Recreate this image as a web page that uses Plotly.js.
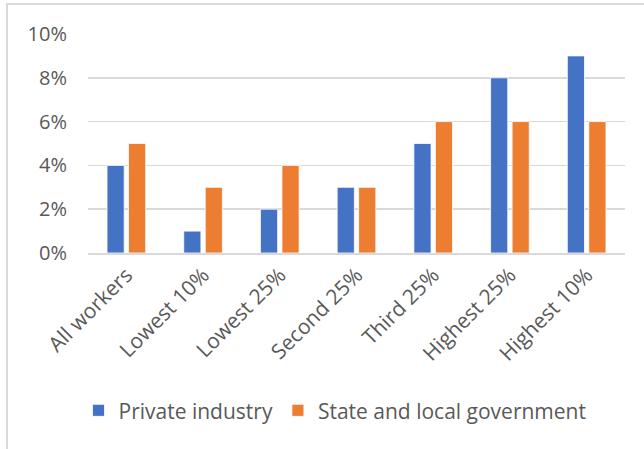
<!DOCTYPE html>
<html>
<head>
<meta charset="utf-8">
<script src="https://cdn.plot.ly/plotly-3.0.1.min.js"></script>
<style>
  html, body { margin: 0; padding: 0; background: #fff; overflow: hidden; }
  #wrap { position: relative; width: 644px; height: 449px; overflow: hidden; }
  #chart { position: absolute; left: 0; top: 0; width: 644px; height: 449px; }
  #frame { position: absolute; left: 6px; top: 3px; width: 700px; height: 500px;
           border-left: 2px solid #D9D9D9; border-top: 2px solid #D9D9D9; pointer-events: none; }
</style>
</head>
<body>
<div id="wrap">
  <div id="chart"></div>
  <div id="frame"></div>
</div>
<script>
const categories = ["All workers", "Lowest 10%", "Lowest 25%", "Second 25%", "Third 25%", "Highest 25%", "Highest 10%"];
const privateIndustry = [4, 1, 2, 3, 5, 8, 9];
const stateLocalGov = [5, 3, 4, 3, 6, 6, 6];
const yTicks = [0, 2, 4, 6, 8, 10];
const yTickLabels = ["0%", "2%", "4%", "6%", "8%", "10%"];

const fontFam = "'Open Sans', 'Noto Sans', sans-serif";
const textColor = "#595959";

const traces = [
  { type: "bar", name: "Private industry", x: categories, y: privateIndustry,
    marker: { color: "#4472C4", line: { color: "#ffffff", width: 0.8 } }, hoverinfo: "skip" },
  { type: "bar", name: "State and local government", x: categories, y: stateLocalGov,
    marker: { color: "#ED7D31", line: { color: "#ffffff", width: 0.8 } }, hoverinfo: "skip" }
];

const layout = {
  width: 644, height: 449,
  margin: { l: 88, r: 19, t: 34, b: 196, autoexpand: false },
  paper_bgcolor: "rgba(0,0,0,0)", plot_bgcolor: "#fff",
  barmode: "group", bargap: 0.44, bargroupgap: 0.2,
  font: { family: fontFam, color: textColor, size: 20 },
  xaxis: { tickangle: -45, tickfont: { size: 21, color: textColor }, showgrid: false,
           showline: true, linecolor: "#D9D9D9", linewidth: 1.5, ticks: "", fixedrange: true },
  yaxis: { range: [0, 10], tickmode: "array", tickvals: yTicks, ticktext: yTickLabels,
           showgrid: true, gridcolor: "#D9D9D9",
           gridwidth: 1.5, zeroline: false, showline: false, ticks: "", ticklabelstandoff: 20,
           tickfont: { size: 20, color: textColor }, fixedrange: true },
  showlegend: true,
  legend: { orientation: "h", x: 0.46, xanchor: "center", y: -0.72, yanchor: "middle",
            font: { size: 21, color: textColor }, itemwidth: 30, traceorder: "normal" }
};

Plotly.newPlot("chart", traces, layout, { displayModeBar: false, staticPlot: true });
</script>
</body>
</html>
